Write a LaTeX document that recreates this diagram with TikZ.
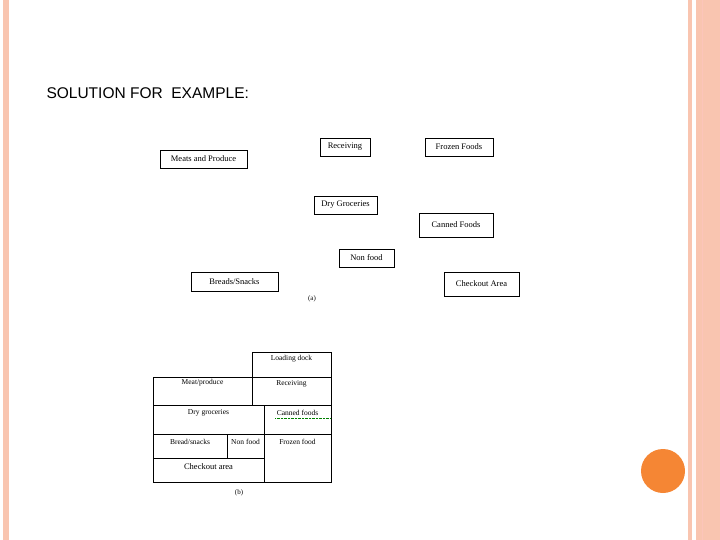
\documentclass[tikz,border=0pt]{standalone}
\usepackage{fontspec}
\setmainfont{Liberation Serif}
\newfontfamily\titlefont{Liberation Sans}
\definecolor{peach}{HTML}{F9C5B0}
\definecolor{dotorange}{HTML}{F58634}
\tikzset{lbl/.style = {draw, inner sep=0pt, font=\fontsize{8.5}{10}\selectfont},
         cell/.style = {font=\fontsize{7.5}{9}\selectfont}}
\begin{document}
\begin{tikzpicture}[x=1pt, y=-1pt]
  	\useasboundingbox (0,0) rectangle (720,540);
  	\fill[peach] (3,0) rectangle (9,540);
  	\fill[peach] (688,0) rectangle (692,540);
  	\fill[peach] (696,0) rectangle (720,540);
  	\draw[peach!80!red!60, line width=0.8pt] (702,0) -- (702,540);
  	\fill[dotorange] (663,471) circle (22);
  	\node[anchor=west, font=\titlefont\fontsize{15.5}{18}\selectfont] (title) at (43,93) {SOLUTION FOR\ \ EXAMPLE:};
  	% (a) separate departments
  	\node[lbl, minimum width=87, minimum height=18] (meats) at (203.5,159) {Meats and Produce};
  	\node[lbl, minimum width=50, minimum height=18] (recv) at (345,147) {Receiving};
  	\node[lbl, minimum width=68, minimum height=18] (frozen) at (459,147) {Frozen Foods};
  	\node[lbl, minimum width=63, minimum height=18] (dry) at (345.5,205) {Dry Groceries};
  	\node[lbl, minimum width=74, minimum height=24] (canned) at (456,225) {Canned Foods};
  	\node[lbl, minimum width=55, minimum height=18] (nonfood) at (366.5,258) {Non food};
  	\node[lbl, minimum width=87, minimum height=19] (breads) at (234.5,281.5) {Breads/Snacks};
  	\node[lbl, minimum width=75, minimum height=24] (checkout) at (481.5,284) {Checkout Area};
  	\node[font=\fontsize{7}{8}\selectfont] (capa) at (312,299) {(a)};
  	% (b) block layout
  	\draw (252,352) rectangle (331,377);
  	\draw (153,377) rectangle (331,482);
  	\draw (252,377) -- (252,405);
  	\draw (153,405) -- (331,405);
  	\draw (264,405) -- (264,482);
  	\draw (153,434) -- (331,434);
  	\draw (227,434) -- (227,458);
  	\draw (153,458) -- (264,458);
  	\node[cell] (loading) at (291.5,359) {Loading dock};
  	\node[cell] (meat) at (202.5,383) {Meat/produce};
  	\node[cell] (recvb) at (291.5,384) {Receiving};
  	\node[cell] (dryb) at (208.5,413) {Dry groceries};
  	\node[cell] (cannedb) at (297.5,413) {Canned\ foods};
  	\draw[green!50!black, densely dotted] (cannedb.south west) ++(2,-1) -- ++(56,0);
  	\node[cell] (breadb) at (190,442) {Bread/snacks};
  	\node[cell] (nonb) at (245.5,442) {Non food};
  	\node[cell] (frozenb) at (297.5,442) {Frozen food};
  	\node[font=\fontsize{8.5}{10}\selectfont] (checkb) at (208.5,467) {Checkout area};
  	\node[font=\fontsize{7}{8}\selectfont] (capb) at (239,493) {(b)};
\end{tikzpicture}
\end{document}
